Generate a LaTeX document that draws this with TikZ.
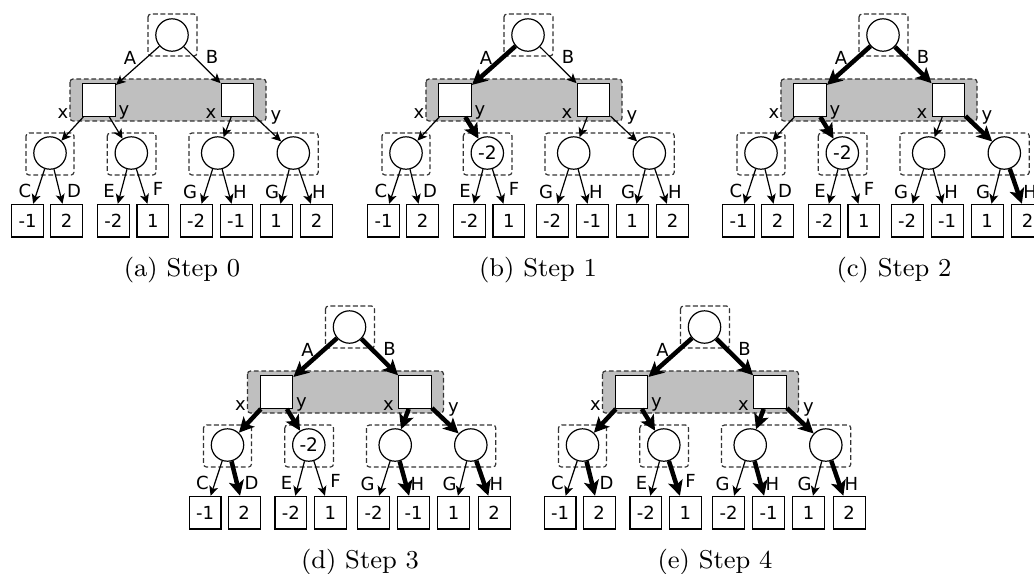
\documentclass[tikz,border=0pt]{standalone}
\usepackage{fontspec}
\newfontfamily\lblfont{DejaVu Sans}
\usetikzlibrary{arrows.meta}
\tikzset{
  dbox/.style={draw=black!80, line width=0.4pt, dash pattern=on 1.6pt off 0.9pt, rounded corners=1pt},
  gbox/.style={dbox, fill=black!25},
  circ/.style={circle, draw, line width=0.4pt, fill=white, minimum size=10.8pt, inner sep=0pt, font=\lblfont\fontsize{6.2}{7}\selectfont},
  sq/.style={rectangle, draw, line width=0.4pt, fill=white, minimum size=10.9pt, inner sep=0pt},
  leaf/.style={rectangle, draw, line width=0.4pt, fill=white, minimum width=10.6pt, minimum height=10.9pt, inner sep=0pt, font=\lblfont\fontsize{6}{7}\selectfont},
  lbl/.style={inner sep=0pt, font=\lblfont\fontsize{6}{7}\selectfont},
  captxt/.style={inner sep=0pt, anchor=base, font=\fontsize{8.6}{10}\selectfont},
  thn/.style={line width=0.4pt, -{Stealth[length=3.2pt,width=3pt,inset=0.8pt]}},
  thk/.style={line width=1.5pt, -{Stealth[length=5pt,width=5pt,inset=1.2pt]}},
  eA/.style={thn}, eB/.style={thn},
  ex1/.style={thn}, ey1/.style={thn}, ex2/.style={thn}, ey2/.style={thn},
  eC/.style={thn}, eD/.style={thn}, eE/.style={thn}, eF/.style={thn},
  eG1/.style={thn}, eH1/.style={thn}, eG2/.style={thn}, eH2/.style={thn}
}
\newcommand\drawtree[4]{%
\begin{scope}[shift={(#2,#3)}]
  \draw[dbox] (-24,-21) rectangle (25,21);
  \draw[gbox] (-102,44) rectangle (94,86);
  \draw[dbox] (-146,98) rectangle (-98,140);
  \draw[dbox] (-64.7,98) rectangle (-16,140);
  \draw[dbox] (17,98) rectangle (146.3,140);
  \node[circ] (#1r) at (0,0) {};
  \node[sq] (#1s1) at (-73,65) {};
  \node[sq] (#1s2) at (65.5,65) {};
  \node[circ] (#1c1) at (-122,118) {};
  \node[circ] (#1c2) at (-40.7,118) {#4};
  \node[circ] (#1c3) at (45.7,118) {};
  \node[circ] (#1c4) at (121.3,118) {};
  \node[leaf] (#1l1) at (-144.5,185.7) {-1};
  \node[leaf] (#1l2) at (-105.3,185.7) {2};
  \node[leaf] (#1l3) at (-58.7,185.7) {-2};
  \node[leaf] (#1l4) at (-19.2,185.7) {1};
  \node[leaf] (#1l5) at (24.2,185.7) {-2};
  \node[leaf] (#1l6) at (64.2,185.7) {-1};
  \node[leaf] (#1l7) at (104.2,185.7) {1};
  \node[leaf] (#1l8) at (144.7,185.7) {2};
  \draw[eA] (#1r) -- (#1s1);
  \draw[eB] (#1r) -- (#1s2);
  \draw[ex1] (#1s1) -- (#1c1);
  \draw[ey1] (#1s1) -- (#1c2);
  \draw[ex2] (#1s2) -- (#1c3);
  \draw[ey2] (#1s2) -- (#1c4);
  \draw[eC] (#1c1) -- (#1l1);
  \draw[eD] (#1c1) -- (#1l2);
  \draw[eE] (#1c2) -- (#1l3);
  \draw[eF] (#1c2) -- (#1l4);
  \draw[eG1] (#1c3) -- (#1l5);
  \draw[eH1] (#1c3) -- (#1l6);
  \draw[eG2] (#1c4) -- (#1l7);
  \draw[eH2] (#1c4) -- (#1l8);
  \node[lbl] (#1lA) at (-42,23) {A};
  \node[lbl] (#1lB) at (40,22) {B};
  \node[lbl] (#1lx1) at (-109,79) {x};
  \node[lbl] (#1ly1) at (-48,77) {y};
  \node[lbl] (#1lx2) at (39,79) {x};
  \node[lbl] (#1ly2) at (104,82) {y};
  \node[lbl] (#1lC) at (-147,156) {C};
  \node[lbl] (#1lD) at (-98,156) {D};
  \node[lbl] (#1lE) at (-63,156) {E};
  \node[lbl] (#1lF) at (-14,154) {F};
  \node[lbl] (#1lG1) at (18,157) {G};
  \node[lbl] (#1lH1) at (68,157) {H};
  \node[lbl] (#1lG2) at (100,157) {G};
  \node[lbl] (#1lH2) at (147,157) {H};
\end{scope}}
\begin{document}
\begin{tikzpicture}[x=0.3333pt,y=-0.3333pt]
\useasboundingbox (0,0) rectangle (1034,573);
\clip (0,0) rectangle (1034,573);
% (a)
\drawtree{a}{172}{35}{}
\node[captxt] (capa) at (182,276) {(a) Step 0};
% (b)
\begin{scope}[eA/.style={thk}, ey1/.style={thk}]
\drawtree{b}{528}{35}{-2}
\end{scope}
\node[captxt] (capb) at (538,276) {(b) Step 1};
% (c)
\begin{scope}[eA/.style={thk}, eB/.style={thk}, ey1/.style={thk}, ey2/.style={thk}, eH2/.style={thk}]
\drawtree{c}{883}{35}{-2}
\end{scope}
\node[captxt] (capc) at (894,276) {(c) Step 2};
% (d)
\begin{scope}[eA/.style={thk}, eB/.style={thk}, ex1/.style={thk}, ey1/.style={thk}, ex2/.style={thk}, ey2/.style={thk}, eD/.style={thk}, eH1/.style={thk}, eH2/.style={thk}]
\drawtree{d}{349.5}{327}{-2}
\end{scope}
\node[captxt] (capd) at (360,568) {(d) Step 3};
% (e)
\begin{scope}[eA/.style={thk}, eB/.style={thk}, ex1/.style={thk}, ey1/.style={thk}, ex2/.style={thk}, ey2/.style={thk}, eD/.style={thk}, eF/.style={thk}, eH1/.style={thk}, eH2/.style={thk}]
\drawtree{e}{704.5}{327}{}
\end{scope}
\node[captxt] (cape) at (715,568) {(e) Step 4};
\end{tikzpicture}
\end{document}
